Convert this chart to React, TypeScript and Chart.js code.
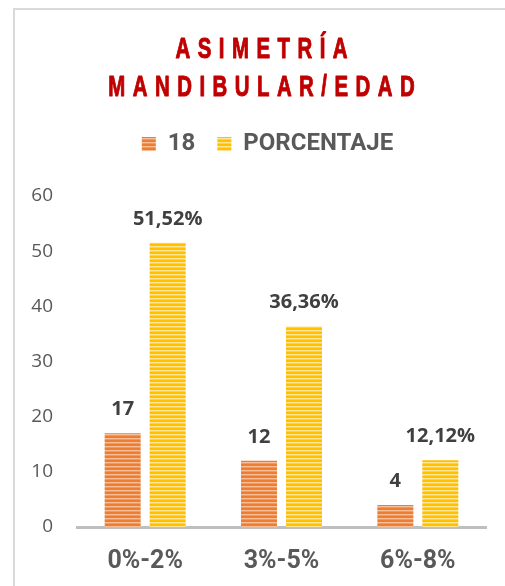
import React, { useEffect, useRef } from "react";
import { Chart, registerables } from "chart.js";

Chart.register(...registerables);

const TITLE_LINES = ["ASIMETRÍA", "MANDIBULAR/EDAD"];
const CATEGORIES = ["0%-2%", "3%-5%", "6%-8%"];
const SERIES_NAMES = ["18", "PORCENTAJE"];
const COUNT_VALUES = [17, 12, 4];
const PERCENT_VALUES = [51.52, 36.36, 12.12];
const COUNT_LABELS = ["17", "12", "4"];
const PERCENT_LABELS = ["51,52%", "36,36%", "12,12%"];
const Y_MIN = 0;
const Y_MAX = 60;
const Y_STEP = 10;

const VALUE_LABELS = [COUNT_LABELS, PERCENT_LABELS];

function makeStripes(base: string, light: string, mid: string) {
  const c = document.createElement("canvas");
  c.width = 4;
  c.height = 4;
  const g = c.getContext("2d")!;
  g.fillStyle = base;
  g.fillRect(0, 0, 4, 4);
  g.fillStyle = light;
  g.fillRect(0, 2, 4, 1);
  g.fillStyle = mid;
  g.fillRect(0, 3, 4, 1);
  const ctx = document.createElement("canvas").getContext("2d")!;
  return ctx.createPattern(c, "repeat")!;
}

const framePlugin = {
  id: "frame",
  beforeDraw(chart: any) {
    const { ctx } = chart;
    ctx.save();
    ctx.fillStyle = "#ffffff";
    ctx.fillRect(0, 0, chart.width, chart.height);
    ctx.strokeStyle = "#D9D9D9";
    ctx.lineWidth = 2;
    ctx.strokeRect(14, 9, chart.width + 20, chart.height + 20);
    ctx.restore();
  },
};

const titlePlugin = {
  id: "spacedTitle",
  afterDraw(chart: any) {
    const { ctx } = chart;
    const centerX = 261.5;
    const baselines = [58, 95.5];
    const sx = 0.68;
    const spacing = 11;
    ctx.save();
    ctx.fillStyle = "#C00000";
    ctx.strokeStyle = "#C00000";
    ctx.lineWidth = 1;
    ctx.lineJoin = "round";
    ctx.font = 'bold 30px "Liberation Sans", Arial, sans-serif';
    (ctx as any).letterSpacing = spacing + "px";
    ctx.textAlign = "left";
    ctx.textBaseline = "alphabetic";
    TITLE_LINES.forEach((line, i) => {
      const w = ctx.measureText(line).width - spacing;
      ctx.save();
      ctx.translate(centerX - (w * sx) / 2, baselines[i]);
      ctx.scale(sx, 1);
      ctx.fillText(line, 0, 0);
      ctx.strokeText(line, 0, 0);
      ctx.restore();
    });
    ctx.restore();
  },
};

const valueLabelPlugin = {
  id: "valueLabels",
  afterDatasetsDraw(chart: any) {
    const { ctx } = chart;
    ctx.save();
    ctx.font = 'bold 20px "Open Sans", sans-serif';
    ctx.fillStyle = "#404040";
    ctx.textAlign = "center";
    ctx.textBaseline = "alphabetic";
    chart.data.datasets.forEach((_ds: any, i: number) => {
      const meta = chart.getDatasetMeta(i);
      meta.data.forEach((bar: any, j: number) => {
        ctx.fillText(VALUE_LABELS[i][j], bar.x, bar.y - 18);
      });
    });
    ctx.restore();
  },
};

export default function App() {
  const ref = useRef<HTMLCanvasElement>(null);

  useEffect(() => {
    const canvas = ref.current;
    if (!canvas) return;
    const orange = makeStripes("#ED7D31", "#F7BE98", "#F09A62");
    const yellow = makeStripes("#FFC000", "#FFE596", "#FFD24D");
    const chart = new Chart(canvas, {
      type: "bar",
      data: {
        labels: CATEGORIES,
        datasets: [
          {
            label: SERIES_NAMES[0],
            data: COUNT_VALUES,
            backgroundColor: orange as any,
            borderWidth: 0,
            categoryPercentage: 0.66,
            barPercentage: 0.8,
          },
          {
            label: SERIES_NAMES[1],
            data: PERCENT_VALUES,
            backgroundColor: yellow as any,
            borderWidth: 0,
            categoryPercentage: 0.66,
            barPercentage: 0.8,
          },
        ],
      },
      options: {
        animation: false,
        responsive: false,
        maintainAspectRatio: false,
        events: [],
        layout: { padding: { top: 110, left: 30, right: 0, bottom: 0 } },
        plugins: {
          // empty right-hand box: keeps the plot area off the right edge
          title: {
            display: true,
            text: "",
            position: "right",
            font: { size: 10, lineHeight: 1 },
            padding: { top: 0, bottom: 9 },
          } as any,
          tooltip: { enabled: false },
          legend: {
            display: true,
            position: "top",
            labels: {
              boxWidth: 14,
              boxHeight: 14,
              padding: 22,
              color: "#595959",
              font: { family: "Roboto", weight: "bold", size: 24 },
            },
          },
          // empty box between legend and plot area
          subtitle: {
            display: true,
            text: "",
            position: "top",
            weight: 500,
            font: { size: 10, lineHeight: 1 },
            padding: { top: 0, bottom: 20 },
          } as any,
        },
        scales: {
          x: {
            grid: { display: false, drawTicks: false },
            border: { display: true, color: "#BFBFBF", width: 3 },
            ticks: {
              color: "#595959",
              padding: 20,
              font: { family: "Roboto", weight: "bold", size: 25 },
            },
            afterFit: (s: any) => {
              s.height = 59;
            },
          },
          y: {
            min: Y_MIN,
            max: Y_MAX,
            grid: { display: false, drawTicks: false },
            border: { display: false },
            ticks: {
              stepSize: Y_STEP,
              padding: 24,
              color: "#595959",
              font: { family: "Open Sans", size: 19 },
            },
            afterFit: (s: any) => {
              s.width = 47;
            },
          },
        },
      },
      plugins: [framePlugin, titlePlugin, valueLabelPlugin],
    });
    return () => chart.destroy();
  }, []);

  return (
    <div style={{ position: "absolute", left: 0, top: 0, width: 505, height: 586 }}>
      <canvas ref={ref} width={505} height={586} style={{ display: "block" }} />
    </div>
  );
}
